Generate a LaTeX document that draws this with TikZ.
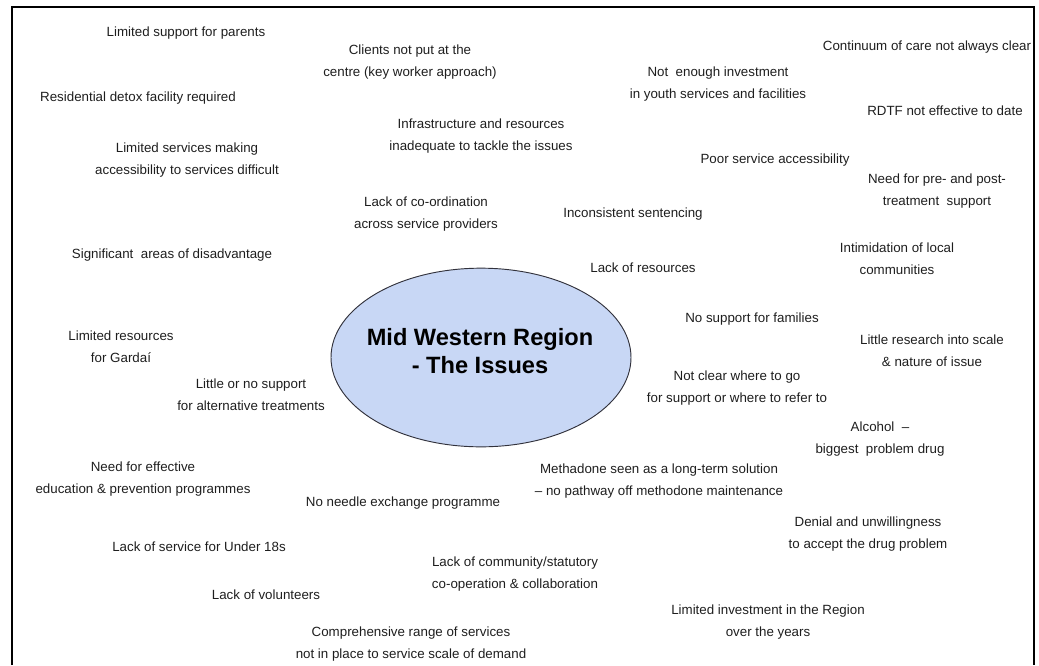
\documentclass[tikz,border=0pt]{standalone}
\usepackage{fontspec}
\setmainfont{Liberation Sans}
\usetikzlibrary{shapes.geometric}

\definecolor{hubfill}{RGB}{200,215,245}
\definecolor{hubline}{RGB}{50,50,60}
\definecolor{ink}{RGB}{30,30,30}

\tikzset{
  issue/.style={align=center, inner sep=0pt, text=ink,
    font=\fontsize{10}{16.5}\selectfont},
  hub/.style={ellipse, draw=hubline, line width=0.7pt, fill=hubfill,
    minimum width=225pt, minimum height=134pt, inner sep=0pt},
  hubtitle/.style={align=center, inner sep=0pt, text=black,
    font=\fontsize{17.7}{21}\selectfont\bfseries},
  frame/.style={line width=2pt, black}
}

\begin{document}
\begin{tikzpicture}[x=0.75pt, y=-0.75pt]
\useasboundingbox (0,0) rectangle (1039,665);

% outer frame, open at the bottom
\draw[frame] (12,665) -- (12,7) -- (1034,7) -- (1034,665);

% central ellipse and its title
\node[hub] (hub) at (481,357.5) {};
\node[hubtitle] (title) at (480,351) {Mid Western Region\\- The Issues};

% the issues around it
\node[issue] (parents)    at (186,33)  {Limited support for parents};
\node[issue] (clients)    at (410,62)  {Clients not put at the\\centre (key worker approach)};
\node[issue] (continuum)  at (927,47)  {Continuum of care not always clear};
\node[issue] (youth)      at (718,84)  {Not\ \ enough investment\\in youth services and facilities};
\node[issue] (detox)      at (138,98)  {Residential detox facility required};
\node[issue] (rdtf)       at (945,111) {RDTF not effective to date};
\node[issue] (infra)      at (481,136) {Infrastructure and resources\\inadequate to tackle the issues};
\node[issue] (limserv)    at (187,160) {Limited services making\\accessibility to services difficult};
\node[issue] (access)     at (775,160) {Poor service accessibility};
\node[issue] (prepost)    at (937,191) {Need for pre- and post-\\treatment\ \ support};
\node[issue] (coord)      at (426,214) {Lack of co-ordination\\across service providers};
\node[issue] (sentencing) at (633,214) {Inconsistent sentencing};
\node[issue] (disadv)     at (172,255) {Significant\ \ areas of disadvantage};
\node[issue] (intim)      at (897,259) {Intimidation of local\\communities};
\node[issue] (resources)  at (643,268) {Lack of resources};
\node[issue] (families)   at (752,319) {No support for families};
\node[issue] (gardai)     at (121,347) {Limited resources\\for Gardaí};
\node[issue] (research)   at (932,351) {Little research into scale\\\& nature of issue};
\node[issue] (alttreat)   at (251,395) {Little or no support\\for alternative treatments};
\node[issue] (where)      at (737,388) {Not clear where to go\\for support or where to refer to};
\node[issue] (alcohol)    at (880,439) {Alcohol\ \ –\\biggest\ \ problem drug};
\node[issue] (education)  at (143,479) {Need for effective\\education \& prevention programmes};
\node[issue] (methadone)  at (659,481) {Methadone seen as a long-term solution\\– no pathway off methodone maintenance};
\node[issue] (needle)     at (403,503) {No needle exchange programme};
\node[issue] (denial)     at (868,534) {Denial and unwillingness\\to accept the drug problem};
\node[issue] (under18)    at (199,547) {Lack of service for Under 18s};
\node[issue] (community)  at (515,574) {Lack of community/statutory\\co-operation \& collaboration};
\node[issue] (volunteers) at (266,595) {Lack of volunteers};
\node[issue] (investment) at (768,622) {Limited investment in the Region\\over the years};
\node[issue] (range)      at (411,644) {Comprehensive range of services\\not in place to service scale of demand};
\end{tikzpicture}
\end{document}
